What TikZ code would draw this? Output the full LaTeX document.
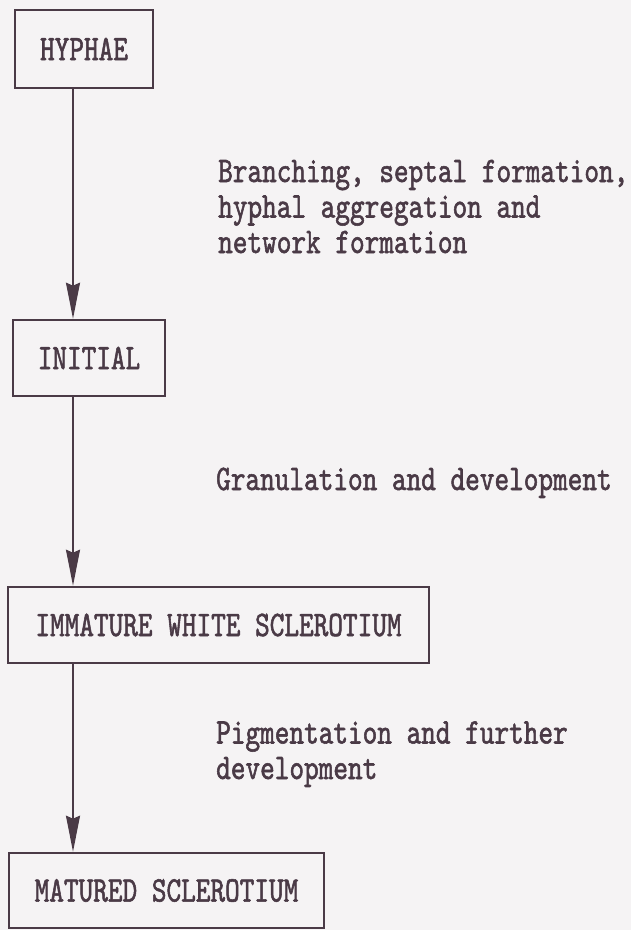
\documentclass[tikz,border=0pt]{standalone}
\usepackage{fontspec}
\setmonofont[Extension=.otf,FakeStretch=0.775,FakeBold=1.5]{lmmono10-regular}
\usetikzlibrary{arrows.meta}
\definecolor{ink}{HTML}{4A3A46}
\definecolor{paper}{HTML}{F5F3F4}
\tikzset{
  stagebox/.style={draw=ink, line width=2.6pt, inner sep=0pt, font=\ttfamily\fontsize{36}{35.5}\selectfont, text=ink},
  steplabel/.style={anchor=base west, align=left, inner sep=0pt, font=\ttfamily\fontsize{36}{35.5}\selectfont, text=ink},
  flowarrow/.style={draw=ink, line width=2pt, -{Stealth[length=36pt,width=14pt,inset=3pt]}}
}
\begin{document}
\begin{tikzpicture}[x=1pt,y=-1pt]
\fill[paper] (0,0) rectangle (631,930);
\useasboundingbox (0,0) rectangle (631,930);
\node[stagebox, minimum width=138pt, minimum height=78pt] (hyphae) at (84,49) {HYPHAE};
\node[stagebox, minimum width=152pt, minimum height=76pt] (initial) at (89,358) {INITIAL};
\node[stagebox, minimum width=421pt, minimum height=76pt] (immature) at (218.5,625) {IMMATURE WHITE SCLEROTIUM};
\node[stagebox, minimum width=315pt, minimum height=75pt] (matured) at (166.5,890.5) {MATURED SCLEROTIUM};
\coordinate (ax) at (73,0);
\draw[flowarrow] (hyphae.south -| ax) -- (initial.north -| ax);
\draw[flowarrow] (initial.south -| ax) -- (immature.north -| ax);
\draw[flowarrow] (immature.south -| ax) -- (matured.north -| ax);
\node[steplabel] (l1) at (218,253) {Branching, septal formation,\\hyphal aggregation and\\network formation};
\node[steplabel] (l2) at (216,490) {Granulation and development};
\node[steplabel] (l3) at (216,779) {Pigmentation and further\\development};
\end{tikzpicture}
\end{document}
